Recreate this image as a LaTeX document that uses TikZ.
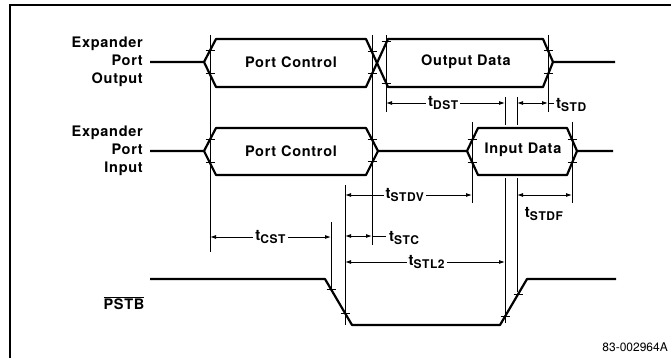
\documentclass[tikz,border=0pt]{standalone}
\usepackage{fontspec}
\setmainfont{TeX Gyre Heros}
\newfontfamily\lblfont[LetterSpace=5]{TeX Gyre Heros}
\usetikzlibrary{arrows.meta}
\newcommand\tsub[1]{t\raisebox{-3pt}{\fontsize{12}{12}\selectfont #1}}
\begin{document}
\begin{tikzpicture}[x=1pt,y=-1pt,
  wave/.style={line width=2.2pt, line join=round},
  guide/.style={line width=0.9pt},
  dim/.style={line width=0.9pt, {Latex[length=6pt,width=4pt]}-{Latex[length=6pt,width=4pt]}},
  tick/.style={line width=1pt},
  lbl/.style={font=\lblfont\bfseries\fontsize{14.5}{16}\selectfont, inner sep=1pt},
  sidelbl/.style={font=\lblfont\bfseries\fontsize{14.5}{18}\selectfont, align=right, anchor=east, inner sep=0pt},
  tlbl/.style={font=\lblfont\bfseries\fontsize{15}{16}\selectfont, fill=white, inner sep=2pt},
  idlbl/.style={font=\fontsize{12}{12}\selectfont, inner sep=0pt},
]
\useasboundingbox (0,0) rectangle (671,358);
% frame
\draw[line width=1.4pt] (9,5) -- (671,5);
\draw[line width=1.4pt] (10,5) -- (10,358);

% ---------- side labels
\node[sidelbl] (lout) at (143,62) {Expander\\Port\\Output};
\node[sidelbl] (lin) at (143,151) {Expander\\Port\\Input};
\node[lbl] (lpstb) at (124,303) {$\overline{\mbox{\lblfont\bfseries PSTB}}$};

% ---------- row 1: output
\draw[wave] (150,62) -- (204,62) -- (216,39) -- (366,39) -- (388,87) -- (543,87) -- (553,62) -- (615,62);
\draw[wave] (204,62) -- (216,87) -- (366,87) -- (388,39) -- (543,39) -- (553,62);
\node[lbl] (pc1) at (291,62) {Port Control};
\node[lbl] (od) at (466,62) {Output Data};

% ---------- row 2: input
\draw[wave] (150,151) -- (204,151) -- (216,128) -- (366,128) -- (378,151) -- (467,151) -- (478,128) -- (567,128) -- (577,151) -- (613,151);
\draw[wave] (204,151) -- (216,175) -- (366,175) -- (378,151);
\draw[wave] (467,151) -- (478,175) -- (567,175) -- (577,151);
\node[lbl] (pc2) at (291,151) {Port Control};
\node[lbl] (id) at (523,150) {Input Data};

% ---------- PSTB
\draw[wave] (150,279) -- (325,279) -- (352,325) -- (500,325) -- (527,279) -- (616,279);

% ---------- guide lines
\coordinate (g1t) at (210,35);  \coordinate (g1b) at (210,252);
\coordinate (g2t) at (372,35);  \coordinate (g2b) at (372,245);
\coordinate (g3t) at (386,35);  \coordinate (g3b) at (386,112);
\coordinate (g4t) at (548,35);  \coordinate (g4b) at (548,112);
\coordinate (g5t) at (505,97);  \coordinate (g5m) at (505,125);
\coordinate (g5n) at (505,178); \coordinate (g5b) at (505,323);
\coordinate (g6t) at (517,97);  \coordinate (g6m) at (517,125);
\coordinate (g6n) at (517,178); \coordinate (g6b) at (517,292);
\coordinate (g7t) at (472,122); \coordinate (g7b) at (472,203);
\coordinate (g8t) at (572,122); \coordinate (g8b) at (572,203);
\coordinate (g9t) at (345,185); \coordinate (g9b) at (345,325);
\coordinate (g10t) at (331,222); \coordinate (g10b) at (331,292);
\foreach \a/\b in {g1t/g1b,g2t/g2b,g3t/g3b,g4t/g4b,g5t/g5m,g5n/g5b,g6t/g6m,g6n/g6b,g7t/g7b,g8t/g8b,g9t/g9b,g10t/g10b}
  \draw[guide] (\a) -- (\b);

% ---------- crossing ticks
\foreach \p in {(210,50.5),(210,74),(210,139.5),(210,163),
                (372,52),(372,74),(372,140),(372,162),
                (386,42),(386,84),(548,50.5),(548,74),
                (472,140),(472,163),(572,140),(572,163),
                (331,289),(345,313),(505,316),(518,294)}
  \draw[tick] \p ++(-4.5,0) -- ++(9,0);

% ---------- dimensions
\draw[dim] (386,103) -- (505,103) node[tlbl, pos=0.48] (tdst) {\tsub{DST}};
\draw[dim] (517,103) -- (548,103);
\draw[guide] (548,103) -- (554,103);
\node[lbl, anchor=west, font=\lblfont\bfseries\fontsize{15}{16}\selectfont] (tstd) at (555,105) {\tsub{STD}};

\draw[dim] (345,195) -- (472,195) node[tlbl, pos=0.47] (tstdv) {\tsub{STDV}};
\draw[dim] (517,195) -- (572,195);
\node[lbl, font=\lblfont\bfseries\fontsize{15}{16}\selectfont] (tstdf) at (544,214) {\tsub{STDF}};

\draw[dim] (210,237) -- (331,237) node[tlbl, pos=0.5] (tcst) {\tsub{CST}};
\draw[dim] (345,236) -- (372,236);
\draw[guide] (372,236) -- (386,236);
\node[lbl, anchor=west, font=\lblfont\bfseries\fontsize{15}{16}\selectfont] (tstc) at (388,238) {\tsub{STC}};

\draw[dim] (345,262) -- (505,262) node[tlbl, pos=0.51] (tstl) {\tsub{STL2}};

% ---------- figure id
\node[idlbl, anchor=east] (fid) at (668,347) {83-002964A};
\end{tikzpicture}
\end{document}
